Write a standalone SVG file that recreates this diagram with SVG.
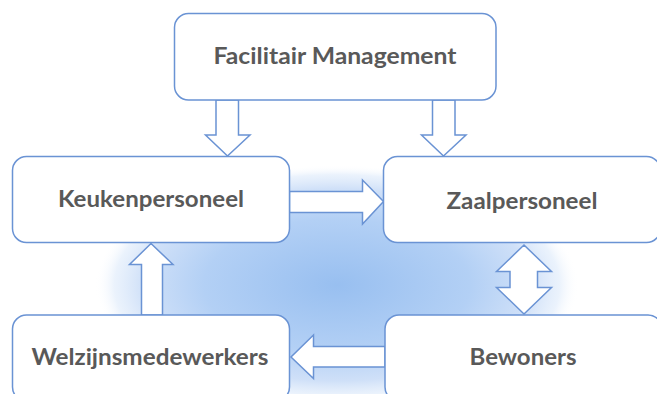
<svg xmlns="http://www.w3.org/2000/svg" width="657" height="394" viewBox="0 0 657 394">
<defs>
<radialGradient id="glow" cx="0.5" cy="0.5" r="0.5">
<stop offset="0" stop-color="#98bff0"/>
<stop offset="0.55" stop-color="#b3d0f5"/>
<stop offset="0.8" stop-color="#cfe0f8"/>
<stop offset="0.92" stop-color="#e2edfb" stop-opacity="0.7"/>
<stop offset="1" stop-color="#ffffff" stop-opacity="0"/>
</radialGradient>
<style>
.box{fill:#ffffff;stroke:#6a93d4;stroke-width:1.5}
.arr{fill:#ffffff;stroke:#6a93d4;stroke-width:1.5;stroke-linejoin:miter}
.lbl{font-family:Lato,"Liberation Sans",sans-serif;font-weight:bold;font-size:22px;fill:#595959;text-anchor:middle}
</style>
</defs>
<rect width="657" height="394" fill="#ffffff"/>
<ellipse cx="337" cy="285" rx="242" ry="120" fill="url(#glow)"/>
<g id="connectors">
<polygon class="arr" points="216,100 238.5,100 238.5,135 250,135 227.5,156 205.5,135 216,135"/>
<polygon class="arr" points="432.5,100 455,100 455,135 466,135 443.5,156 421.5,135 432.5,135"/>
<polygon class="arr" points="289.5,191.5 362.5,191.5 362.5,180 383.5,201.5 362.5,224 362.5,212.5 289.5,212.5"/>
<polygon class="arr" points="524,245 551.5,271.5 537.5,271.5 537.5,287.5 551.5,287.5 524,314 496.5,287.5 510,287.5 510,271.5 496.5,271.5"/>
<polygon class="arr" points="141.5,315 141.5,264.5 129.5,264.5 151,243.5 173,264.5 162.5,264.5 162.5,315"/>
<polygon class="arr" points="385,346.5 313.5,346.5 313.5,335 291,357 313.5,378.5 313.5,367 385,367"/>
</g>
<g id="facilitair">
<rect class="box" x="174.5" y="13.5" width="321.5" height="86.5" rx="14"/>
<text class="lbl" x="335" y="64" textLength="243" lengthAdjust="spacingAndGlyphs">Facilitair Management</text>
</g>
<g id="keuken">
<rect class="box" x="12.5" y="156.5" width="277" height="86" rx="14"/>
<text class="lbl" x="151" y="207" textLength="186" lengthAdjust="spacingAndGlyphs">Keukenpersoneel</text>
</g>
<g id="zaal">
<rect class="box" x="383.5" y="156.5" width="277" height="86" rx="14"/>
<text class="lbl" x="522" y="208.5" textLength="151" lengthAdjust="spacingAndGlyphs">Zaalpersoneel</text>
</g>
<g id="welzijn">
<rect class="box" x="12.5" y="315" width="277" height="86" rx="14"/>
<text class="lbl" x="150" y="365" textLength="237" lengthAdjust="spacingAndGlyphs">Welzijnsmedewerkers</text>
</g>
<g id="bewoners">
<rect class="box" x="385" y="315" width="277" height="86" rx="14"/>
<text class="lbl" x="523" y="365" textLength="107" lengthAdjust="spacingAndGlyphs">Bewoners</text>
</g>
</svg>
